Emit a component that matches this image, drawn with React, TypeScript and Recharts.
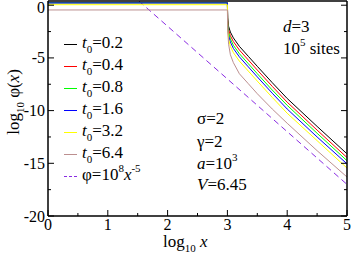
import { LineChart, Line, XAxis, YAxis } from 'recharts'

// log10 x sample points shared by all t0 curves
const logX = [0, 3.0, 3.005, 3.02, 3.05, 3.1, 3.2, 3.35, 3.5, 3.75, 4.0, 4.5, 5.0]

const t02 = [0.25, 0.25, -1.2, -2.0, -2.55, -3.1, -3.9, -4.85, -5.8, -7.35, -8.85, -11.5, -14.1]
const t04 = [0.24, 0.24, -1.4, -2.3, -2.9, -3.45, -4.25, -5.2, -6.15, -7.7, -9.2, -11.85, -14.45]
const t08 = [0.23, 0.23, -1.6, -2.6, -3.2, -3.8, -4.6, -5.55, -6.5, -8.05, -9.5, -12.15, -14.75]
const t16 = [0.22, 0.22, -1.8, -2.9, -3.5, -4.1, -4.9, -5.85, -6.8, -8.35, -9.85, -12.5, -15.05]
const t32 = [0.05, 0.05, -2.0, -3.2, -3.9, -4.5, -5.3, -6.25, -7.2, -8.75, -10.25, -12.85, -15.45]
const t64 = [-0.45, -0.45, -2.4, -3.7, -4.7, -5.45, -6.5, -7.45, -8.4, -9.85, -11.2, -13.8, -16.3]

// phi = 10^8 x^-5 reference line, end points
const powX = [1.52, 5.0]
const powY = [0.4, -17.0]

const xTicks = [0, 0.5, 1, 1.5, 2, 2.5, 3, 3.5, 4, 4.5, 5]
const yTicks = [-20, -17.5, -15, -12.5, -10, -7.5, -5, -2.5, 0]

const series = [
  { name: '0.2', values: t02, color: '#000000' },
  { name: '0.4', values: t04, color: '#ff0000' },
  { name: '0.8', values: t08, color: '#00ff00' },
  { name: '1.6', values: t16, color: '#0000ff' },
  { name: '3.2', values: t32, color: '#ffff00' },
  { name: '6.4', values: t64, color: '#bc8f8f' },
]
const powColor = '#8a2be2'

const FONT = '"Liberation Serif", "Times New Roman", serif'

const toPoints = (xs: number[], ys: number[]) => xs.map((x, i) => ({ x, y: ys[i] }))

const abs = (left: number, top: number, extra: React.CSSProperties = {}): React.CSSProperties => ({
  position: 'absolute', left, top, whiteSpace: 'nowrap', lineHeight: 1, ...extra,
})

function Sub({ children }: { children: React.ReactNode }) {
  return <span style={{ fontSize: 11, position: 'relative', top: 5 }}>{children}</span>
}
function Sup({ children }: { children: React.ReactNode }) {
  return <span style={{ fontSize: 11, position: 'relative', top: -8 }}>{children}</span>
}

// ticks point into the plot; long ones on labelled values
type TickProps = { x: number; y: number; payload: { value: number } }

function BottomTick({ x, y, payload }: TickProps) {
  const major = Number.isInteger(payload.value)
  return (
    <g>
      <line x1={x} y1={y} x2={x} y2={y - (major ? 6 : 3)} stroke="#000" />
      {major && <text x={x} y={y + 14} textAnchor="middle" fontSize={16} fontFamily={FONT} fill="#000">{payload.value}</text>}
    </g>
  )
}
function TopTick({ x, y, payload }: TickProps) {
  const major = Number.isInteger(payload.value)
  return <line x1={x} y1={y} x2={x} y2={y + (major ? 6 : 3)} stroke="#000" />
}
function LeftTick({ x, y, payload }: TickProps) {
  const major = payload.value % 5 === 0
  // keep the top label inside the page
  const baseline = Math.max(y + 5.5, 13)
  return (
    <g>
      <line x1={x} y1={y} x2={x + (major ? 6 : 3)} y2={y} stroke="#000" />
      {major && <text x={x - 3} y={baseline} textAnchor="end" fontSize={16} fontFamily={FONT} fill="#000">{payload.value}</text>}
    </g>
  )
}
function RightTick({ x, y, payload }: TickProps) {
  const major = payload.value % 5 === 0
  return <line x1={x} y1={y} x2={x - (major ? 6 : 3)} y2={y} stroke="#000" />
}

export default function App() {
  const frame = { stroke: '#000', strokeWidth: 1.5 }
  return (
    <div style={{ position: 'absolute', left: 0, top: 0, width: 354, height: 254, fontFamily: FONT, fontSize: 17, color: '#000', background: '#fff' }}>
      <LineChart width={354} height={254} margin={{ top: 0, right: 0, bottom: 0, left: 0 }}>
        <XAxis xAxisId="b" dataKey="x" type="number" domain={[0, 5]} ticks={xTicks} height={38}
          allowDataOverflow tickSize={0} tickMargin={0} interval={0} tickLine={false}
          axisLine={frame} tick={BottomTick} />
        <XAxis xAxisId="t" orientation="top" type="number" domain={[0, 5]} ticks={xTicks} height={1}
          allowDataOverflow tickSize={0} tickMargin={0} interval={0} tickLine={false}
          axisLine={frame} tick={TopTick} />
        <YAxis yAxisId="l" type="number" domain={[-20, 0.4]} ticks={yTicks} width={48}
          allowDataOverflow tickSize={0} tickMargin={0} interval={0} tickLine={false}
          axisLine={frame} tick={LeftTick} />
        <YAxis yAxisId="r" orientation="right" type="number" domain={[-20, 0.4]} ticks={yTicks} width={7}
          allowDataOverflow tickSize={0} tickMargin={0} interval={0} tickLine={false}
          axisLine={frame} tick={RightTick} />

        <Line xAxisId="b" yAxisId="l" data={toPoints(powX, powY)} dataKey="y" type="linear"
          stroke={powColor} strokeWidth={1} strokeDasharray="6 4" dot={false} isAnimationActive={false} />
        {series.map((s) => (
          <Line key={s.name} xAxisId="b" yAxisId="l" data={toPoints(logX, s.values)} dataKey="y" type="linear"
            stroke={s.color} strokeWidth={1} dot={false} isAnimationActive={false} />
        ))}
      </LineChart>

      {/* legend */}
      {series.map((s, i) => (
        <div key={s.name} style={abs(64, 34 + 22 * i)}>
          <span style={{ display: 'inline-block', width: 13, height: 0, borderTop: `1px solid ${s.color}`, verticalAlign: 'middle', marginRight: 5 }} />
          <i>t</i><Sub>0</Sub>={s.name}
        </div>
      ))}
      <div style={abs(64, 34 + 22 * 6)}>
        <span style={{ display: 'inline-block', width: 13, height: 0, borderTop: `1px dashed ${powColor}`, verticalAlign: 'middle', marginRight: 5 }} />
        φ=10<Sup>8</Sup><i>x</i><Sup>-5</Sup>
      </div>

      {/* annotations */}
      <div style={abs(283, 18)}><i>d</i>=3</div>
      <div style={abs(283, 40)}>10<Sup>5</Sup> sites</div>
      <div style={abs(197, 110)}>σ=2</div>
      <div style={abs(197, 133)}>γ=2</div>
      <div style={abs(197, 155)}><i>a</i>=10<Sup>3</Sup></div>
      <div style={abs(197, 176)}><i>V</i>=6.45</div>

      {/* axis titles */}
      <div style={abs(163, 233)}>log<Sub>10</Sub> <i>x</i></div>
      <div style={abs(13, 102, { transform: 'translate(-50%, -50%) rotate(-90deg)' })}>
        log<Sub>10</Sub> φ(<i>x</i>)
      </div>
    </div>
  )
}
